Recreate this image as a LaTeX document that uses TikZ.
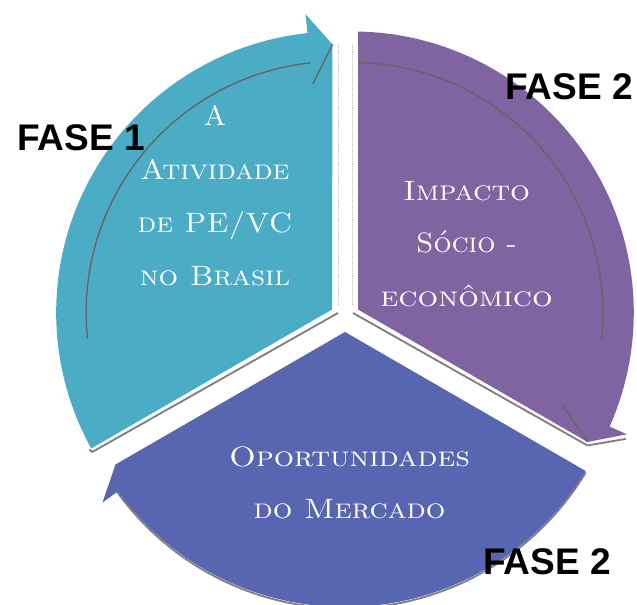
\documentclass[tikz,border=0pt]{standalone}
\usepackage{fontspec}
\newfontfamily\fasefont{Liberation Sans}
\usetikzlibrary{calc}
\definecolor{tealseg}{HTML}{4BACC6}
\definecolor{purpseg}{HTML}{8064A2}
\definecolor{blueseg}{HTML}{5865B0}
\tikzset{
  segtext/.style={text=white, inner sep=0pt, anchor=base,
    font=\fontsize{21}{24}\selectfont\scshape},
  fasetext/.style={text=black, inner sep=0pt, anchor=base west,
    font=\fasefont\bfseries\fontsize{27.8}{30}\selectfont},
  shadowline/.style={draw=black!50, line width=1.4pt},
  innerline/.style={draw=black!60, line width=1.1pt},
  faintline/.style={draw=black!25, line width=0.4pt, densely dotted}
}
\begin{document}
\begin{tikzpicture}[x=0.75pt,y=0.75pt]
\useasboundingbox (0,0) rectangle (637,605);
\clip (0,0) rectangle (637,605);
\coordinate (Ct) at (337.2,292.5);
\coordinate (Cp) at (352.8,292.5);
\coordinate (Cb) at (345,279);
% corners
\coordinate (tA) at (332,295.5);
\coordinate (pA) at (358,295.5);
\coordinate (bA) at (345,273);
% ends
\coordinate (tL) at (91.25,156.5);
\coordinate (tTip) at (332.5,560.5);
\coordinate (pTop) at (358,573.45);
\coordinate (pTip) at (587.5,163);
\coordinate (bR) at (585.7,134);
\coordinate (bTip) at (115.5,140.5);

% faint shadow lines
\draw[faintline] (338,300) -- (338,560);
\draw[faintline] (352.5,300) -- (352.5,560);
% shadow lines
\draw[shadowline] ($(tA)+(6,-3.5)$) -- ($(tL)+(1,-3.5)$) -- ($(tL)+(-2,-1)$);
\draw[shadowline] ($(pA)+(-5,-3.5)$) -- ($(pTip)+(0,-3.5)$) -- ($(Cp)+(-24.5:300)+(0,-2)$);
\draw[shadowline] ($(Cb)+(0,-1.5)+(-31.06:281)$) arc[start angle=-31.06, end angle=-144.5, radius=281];

% segments
\fill[tealseg] (tA) -- (tL) arc[start angle=208.94, end angle=96.06, radius=281]
  -- ($(Ct)+(96.06:300)$) -- (tTip) -- cycle;
\fill[purpseg] (pA) -- (pTop) arc[start angle=88.94, end angle=-23.95, radius=281]
  -- ($(Cp)+(-23.95:300)$) -- (pTip) -- cycle;
\fill[blueseg] (bA) -- (bR) arc[start angle=-31.06, end angle=-143.94, radius=281]
  -- ($(Cb)+(-143.94:300)$) -- (bTip) -- cycle;

% inner arrow lines
\draw[innerline] ($(Ct)+(96.06:251)$) arc[start angle=96.06, end angle=186, radius=251];
\draw[innerline] ($(Ct)+(96.06:230)$) -- (tTip);
\draw[innerline] ($(Cp)+(88.8:250)$) arc[start angle=88.8, end angle=-6, radius=250];
\draw[innerline] ($(Cp)+(-23.95:230)$) -- (pTip);

% texts
\node[segtext] (t1) at (215,479) {A};
\node[segtext, xscale=1.08] (t2) at (215,425) {Atividade};
\node[segtext, xscale=1.07] (t3) at (215,372) {de PE/VC};
\node[segtext, xscale=1.10] (t4) at (215,319) {no Brasil};
\node[segtext, xscale=1.12] (p1) at (466.6,404) {Impacto};
\node[segtext, xscale=1.02] (p2) at (466.6,352) {Sócio -};
\node[segtext, xscale=1.16] (p3) at (466.6,298) {econômico};
\node[segtext, xscale=1.14] (b1) at (349.6,138) {Oportunidades};
\node[segtext, xscale=1.10] (b2) at (349.6,86) {do Mercado};

\node[fasetext] (f1) at (17,454.5) {FASE 1};
\node[fasetext] (f2) at (505,505.4) {FASE 2};
\node[fasetext] (f3) at (483,30) {FASE 2};
\end{tikzpicture}
\end{document}
